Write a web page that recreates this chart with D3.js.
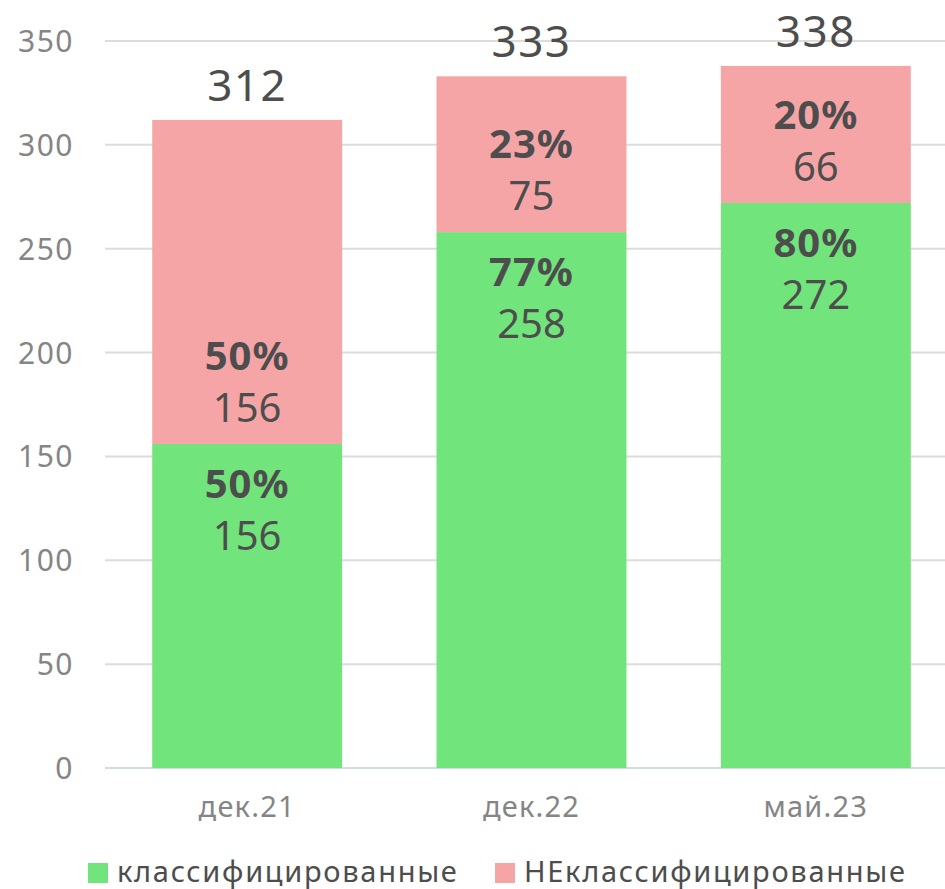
<!DOCTYPE html>
<html>
<head>
<meta charset="utf-8">
<script src="https://cdn.jsdelivr.net/npm/d3@7"></script>
<style>
  body { margin: 0; background: #fff; }
  svg { display: block; }
  text { font-family: "Noto Sans", "DejaVu Sans", sans-serif; }
</style>
</head>
<body>
<svg id="chart" width="945" height="889"></svg>
<script>
// data
var categories = ['дек.21', 'дек.22', 'май.23'];
var classified = [156, 258, 272];
var unclassified = [156, 75, 66];
var classifiedPct = ['50%', '77%', '80%'];
var unclassifiedPct = ['50%', '23%', '20%'];
var yTicks = [0, 50, 100, 150, 200, 250, 300, 350];
var seriesNames = ['классифицированные', 'НЕклассифицированные'];

var colors = ['#72e47c', '#f6a5a7'];
var textColor = '#4d4d4d';
var axisColor = '#858585';

var svg = d3.select('#chart');
var width = 945, height = 889;

var x = d3.scaleBand()
    .domain(categories)
    .range([105, 958])
    .paddingInner(0.332)
    .paddingOuter(0.166);

var y = d3.scaleLinear()
    .domain([0, 350])
    .range([768, 41]);

// gridlines
svg.append('g')
    .selectAll('line')
    .data(yTicks)
    .join('line')
    .attr('x1', 105)
    .attr('x2', width)
    .attr('y1', d => y(d))
    .attr('y2', d => y(d))
    .attr('stroke', d => d === 0 ? '#d3dde8' : '#dcdcdc')
    .attr('stroke-width', 2);

// y axis labels
var yAxis = d3.axisLeft(y).tickValues(yTicks).tickSize(0).tickPadding(0);
var gY = svg.append('g')
    .attr('transform', 'translate(74,0)')
    .call(yAxis);
gY.select('.domain').remove();
gY.selectAll('text')
    .attr('fill', axisColor)
    .style('font-size', '30px')
    .style('letter-spacing', '1.5px')
    .attr('dy', '0.35em');

// x axis labels
var xAxis = d3.axisBottom(x).tickSize(0).tickPadding(0);
var gX = svg.append('g')
    .attr('transform', 'translate(0,797)')
    .call(xAxis);
gX.select('.domain').remove();
gX.selectAll('text')
    .attr('fill', axisColor)
    .style('font-size', '29px')
    .style('letter-spacing', '1.2px')
    .attr('dy', '0.7em');

var stacked = categories.map((c, i) => ({
    cat: c,
    a: classified[i],
    b: unclassified[i],
    pa: classifiedPct[i],
    pb: unclassifiedPct[i]
}));

var bars = svg.append('g')
    .selectAll('g')
    .data(stacked)
    .join('g');

bars.append('rect')
    .attr('x', d => x(d.cat))
    .attr('width', x.bandwidth())
    .attr('y', d => y(d.a))
    .attr('height', d => y(0) - y(d.a))
    .attr('fill', colors[0]);

bars.append('rect')
    .attr('x', d => x(d.cat))
    .attr('width', x.bandwidth())
    .attr('y', d => y(d.a + d.b))
    .attr('height', d => y(d.a) - y(d.a + d.b))
    .attr('fill', colors[1]);

var cx = d => x(d.cat) + x.bandwidth() / 2;

// green labels sit just below the segment top
bars.append('text')
    .attr('x', cx)
    .attr('y', d => y(d.a) + 40)
    .attr('dy', '0.35em')
    .attr('text-anchor', 'middle')
    .attr('fill', textColor)
    .style('font-size', '40px')
    .style('font-weight', 700)
    .style('letter-spacing', '1px')
    .text(d => d.pa);

bars.append('text')
    .attr('x', cx)
    .attr('y', d => y(d.a) + 92)
    .attr('dy', '0.35em')
    .attr('text-anchor', 'middle')
    .attr('fill', textColor)
    .style('font-size', '40px')
    .text(d => d.a);

// pink labels sit just above the segment bottom
bars.append('text')
    .attr('x', cx)
    .attr('y', d => y(d.a) - 88)
    .attr('dy', '0.35em')
    .attr('text-anchor', 'middle')
    .attr('fill', textColor)
    .style('font-size', '40px')
    .style('font-weight', 700)
    .style('letter-spacing', '1px')
    .text(d => d.pb);

bars.append('text')
    .attr('x', cx)
    .attr('y', d => y(d.a) - 36)
    .attr('dy', '0.35em')
    .attr('text-anchor', 'middle')
    .attr('fill', textColor)
    .style('font-size', '40px')
    .text(d => d.b);

// totals
bars.append('text')
    .attr('x', cx)
    .attr('y', d => y(d.a + d.b) - 19)
    .attr('text-anchor', 'middle')
    .attr('fill', textColor)
    .style('font-size', '44px')
    .style('letter-spacing', '1.5px')
    .text(d => d.a + d.b);

// legend
var legend = svg.append('g');
var legendX = [88, 495];
seriesNames.forEach((name, i) => {
    legend.append('rect')
        .attr('x', legendX[i])
        .attr('y', 863)
        .attr('width', 20)
        .attr('height', 20)
        .attr('fill', colors[i]);
    legend.append('text')
        .attr('x', legendX[i] + 29)
        .attr('y', 882)
        .attr('fill', textColor)
        .style('font-size', '29px')
        .style('letter-spacing', '1.7px')
        .text(name);
});
</script>
</body>
</html>
